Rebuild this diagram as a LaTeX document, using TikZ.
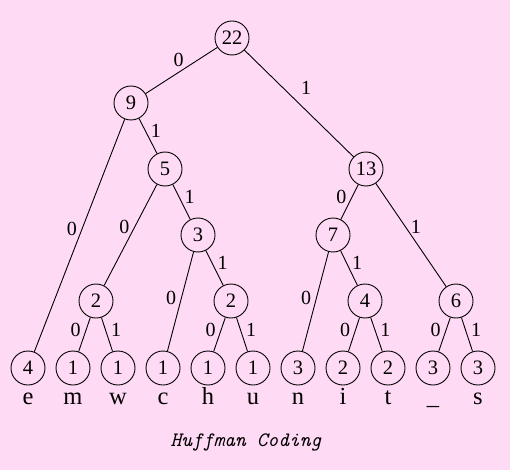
\documentclass[tikz,border=0pt]{standalone}
\usepackage{fontspec}
\setmainfont{Liberation Serif}
\usetikzlibrary{positioning}
\definecolor{bg}{HTML}{FFDAF4}
\definecolor{ink}{HTML}{000000}
\tikzset{
  nd/.style={circle, draw=ink, line width=0.9pt, minimum size=34pt, inner sep=0pt,
    font=\fontsize{20.5}{20.5}\selectfont},
  br/.style={draw=ink, line width=0.9pt},
  bit/.style={font=\fontsize{20}{20}\selectfont, inner sep=5pt},
  chr/.style={font=\fontsize{24.5}{24.5}\selectfont, inner sep=0pt, text height=11.5pt, text depth=4pt},
  ttl/.style={font=\ttfamily\itshape\fontsize{20.5}{20.5}\selectfont},
}
\begin{document}
\begin{tikzpicture}[x=1pt, y=-1pt, node distance=7pt]
  \fill[bg] (0,0) rectangle (510,470);
  % inner nodes
  \node[nd] (n22) at (232,38) {22};
  \node[nd] (n9)  at (131,103) {9};
  \node[nd] (n5)  at (165,169) {5};
  \node[nd] (n13) at (366,169) {13};
  \node[nd] (n3)  at (198,235) {3};
  \node[nd] (n7)  at (333,235) {7};
  \node[nd] (n2a) at (96,301) {2};
  \node[nd] (n2b) at (231,301) {2};
  \node[nd] (n4)  at (365,301) {4};
  \node[nd] (n6)  at (456,301) {6};
  % leaves
  \node[nd] (le)  at (28,368) {4};
  \node[nd] (lm)  at (73,368) {1};
  \node[nd] (lw)  at (118,368) {1};
  \node[nd] (lc)  at (163,368) {1};
  \node[nd] (lh)  at (208,368) {1};
  \node[nd] (lu)  at (253,368) {1};
  \node[nd] (ln)  at (298,368) {3};
  \node[nd] (li)  at (343,368) {2};
  \node[nd] (lt)  at (388,368) {2};
  \node[nd] (lsp) at (433,368) {3};
  \node[nd] (ls)  at (478,368) {3};
  % symbols
  \node[chr, below=of le]  (ce)  {e};
  \node[chr, below=of lm]  (cm)  {m};
  \node[chr, below=of lw]  (cw)  {w};
  \node[chr, below=of lc]  (cc)  {c};
  \node[chr, below=of lh]  (ch)  {h};
  \node[chr, below=of lu]  (cu)  {u};
  \node[chr, below=of ln]  (cn)  {n};
  \node[chr, below=of li]  (ci)  {i};
  \node[chr, below=of lt]  (ct)  {t};
  \node[chr, below=of lsp] (csp) {\_};
  \node[chr, below=of ls]  (cs)  {s};
  % branches
  \draw[br] (n22) -- node[bit, above, pos=.54] {0} (n9);
  \draw[br] (n22) -- node[bit, above right, pos=.47] {1} (n13);
  \draw[br] (n9) -- node[bit, left, pos=.47] {0} (le);
  \draw[br] (n9) -- node[bit, right, pos=.36] {1} (n5);
  \draw[br] (n5) -- node[bit, left, pos=.42] {0} (n2a);
  \draw[br] (n5) -- node[bit, right, pos=.36] {1} (n3);
  \draw[br] (n3) -- node[bit, left, pos=.46] {0} (lc);
  \draw[br] (n3) -- node[bit, right, pos=.36] {1} (n2b);
  \draw[br] (n13) -- node[bit, left, pos=.36] {0} (n7);
  \draw[br] (n13) -- node[bit, right, pos=.42] {1} (n6);
  \draw[br] (n7) -- node[bit, left, pos=.46] {0} (ln);
  \draw[br] (n7) -- node[bit, right, pos=.36] {1} (n4);
  \draw[br] (n2a) -- node[bit, left, pos=.37] {0} (lm);
  \draw[br] (n2a) -- node[bit, right, pos=.37] {1} (lw);
  \draw[br] (n2b) -- node[bit, left, pos=.37] {0} (lh);
  \draw[br] (n2b) -- node[bit, right, pos=.37] {1} (lu);
  \draw[br] (n4) -- node[bit, left, pos=.37] {0} (li);
  \draw[br] (n4) -- node[bit, right, pos=.37] {1} (lt);
  \draw[br] (n6) -- node[bit, left, pos=.37] {0} (lsp);
  \draw[br] (n6) -- node[bit, right, pos=.37] {1} (ls);
  % caption
  \node[ttl, anchor=base] (cpt) at (246,446) {Huffman Coding};
\end{tikzpicture}
\end{document}
